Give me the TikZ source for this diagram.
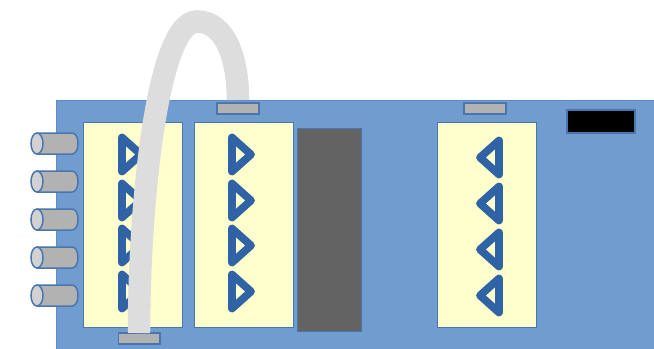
\documentclass[tikz,border=0pt]{standalone}
\tikzset{
    board/.style={fill=boardblue, draw=boardedge, line width=0.03cm},
    panel/.style={fill=panelyellow, draw=edgeblue, line width=0.02cm},
    port/.style={fill=portgray, draw=edgeblue, line width=0.03cm},
    jackbody/.style={fill=portgray, draw=edgeblue, line width=0.03cm},
    jackcap/.style={fill=capgray, draw=edgeblue, line width=0.03cm},
    arrowtri/.style={draw=triblue, line width=0.155cm, line join=round},
    cable/.style={draw=cablegray, line width=0.45cm}
}
\definecolor{boardblue}{HTML}{709CD0}
\definecolor{boardedge}{HTML}{5F8CC2}
\definecolor{edgeblue}{HTML}{4A76AE}
\definecolor{panelyellow}{HTML}{FFFFCD}
\definecolor{portgray}{HTML}{B2B2B2}
\definecolor{capgray}{HTML}{D2D2D2}
\definecolor{triblue}{HTML}{3063A6}
\definecolor{cablegray}{HTML}{DDDDDD}
\definecolor{chipgray}{HTML}{636363}
\begin{document}
\begin{tikzpicture}[x=0.02cm, y=-0.02cm]

    \useasboundingbox (0,0) rectangle (654,349);

    % 1. Board
    \draw[board] (56.5,100.5) rectangle (660,355);

    % 2. Panels
    \draw[panel] (83.5,122) rectangle (182.5,327);
    \draw[panel] (194.5,122) rectangle (293,327);
    \draw[panel] (437.5,122) rectangle (536,327);

    % 3. Chip and black window
    \draw[fill=chipgray, draw=edgeblue, line width=0.02cm] (297.5,128) rectangle (361,331);
    \draw[fill=black, draw=edgeblue, line width=0.03cm] (567,110) rectangle (635,133);

    % 4. Ports on the edges
    \draw[port] (118.5,333) rectangle (160,344);
    \draw[port] (217,103) rectangle (259,114);
    \draw[port] (464,103) rectangle (506,114);

    % 5. Jacks on the left
    \draw[jackbody] (37,133) -- (72,133) .. controls (80,133) and (80,154) .. (72,154) -- (37,154) -- cycle;
    \draw[jackcap] (37,143.5) circle[x radius=6, y radius=10.5];
    \draw[jackbody] (37,171) -- (72,171) .. controls (80,171) and (80,192) .. (72,192) -- (37,192) -- cycle;
    \draw[jackcap] (37,181.5) circle[x radius=6, y radius=10.5];
    \draw[jackbody] (37,209) -- (72,209) .. controls (80,209) and (80,230) .. (72,230) -- (37,230) -- cycle;
    \draw[jackcap] (37,219.5) circle[x radius=6, y radius=10.5];
    \draw[jackbody] (37,247) -- (72,247) .. controls (80,247) and (80,268) .. (72,268) -- (37,268) -- cycle;
    \draw[jackcap] (37,257.5) circle[x radius=6, y radius=10.5];
    \draw[jackbody] (37,285) -- (72,285) .. controls (80,285) and (80,306) .. (72,306) -- (37,306) -- cycle;
    \draw[jackcap] (37,295.5) circle[x radius=6, y radius=10.5];

    % 6. Triangles in the first panel
    \draw[arrowtri] (122,137.5) -- (122,171.5) -- (141,154.5) -- cycle;
    \draw[arrowtri] (122,183.5) -- (122,217.5) -- (141,200.5) -- cycle;
    \draw[arrowtri] (122,228.5) -- (122,262.5) -- (141,245.5) -- cycle;
    \draw[arrowtri] (122,274.5) -- (122,308.5) -- (141,291.5) -- cycle;

    % 7. Triangles in the second panel
    \draw[arrowtri] (232,137.5) -- (232,171.5) -- (251,154.5) -- cycle;
    \draw[arrowtri] (232,183.5) -- (232,217.5) -- (251,200.5) -- cycle;
    \draw[arrowtri] (232,228.5) -- (232,262.5) -- (251,245.5) -- cycle;
    \draw[arrowtri] (232,274.5) -- (232,308.5) -- (251,291.5) -- cycle;

    % 8. Triangles in the third panel
    \draw[arrowtri] (499,140.5) -- (499,174.5) -- (480,157.5) -- cycle;
    \draw[arrowtri] (499,186.5) -- (499,220.5) -- (480,203.5) -- cycle;
    \draw[arrowtri] (499,232.5) -- (499,266.5) -- (480,249.5) -- cycle;
    \draw[arrowtri] (499,278.5) -- (499,312.5) -- (480,295.5) -- cycle;

    % 9. Cable between two ports
    \draw[cable] (139,333) .. controls (139,205) and (157,21.5) .. (197,21.5) .. controls (226,21.5) and (238,60) .. (238,100);

\end{tikzpicture}
\end{document}
